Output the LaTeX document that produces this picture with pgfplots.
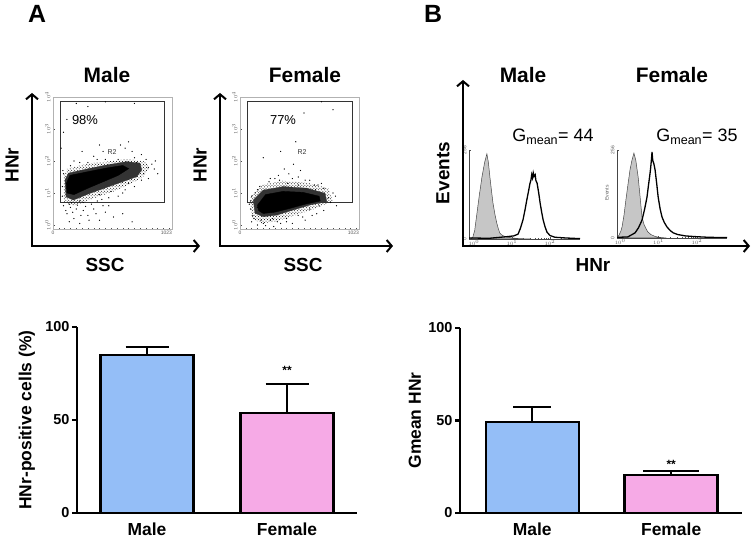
\documentclass[border=0pt]{standalone}
\usepackage{pgfplots}
\pgfplotsset{compat=1.18}
\usepackage{fontspec}
\setmainfont{Liberation Sans}
\usetikzlibrary{arrows.meta,patterns}
\definecolor{barblue}{RGB}{148,190,247}
\definecolor{barpink}{RGB}{246,170,230}
\newcommand{\fs}[1]{\fontsize{#1}{#1}\selectfont}

\pgfplotsset{
  flowscatter/.style={anchor=south west, scale only axis, width=119bp, height=132bp,
    xmin=0, xmax=1023, ymin=-0.125, ymax=4,
    axis line style={draw=gray!60, line width=0.5bp},
    xtick={0,1023}, xticklabels={0,\llap{1023}},
    ytick={0,1,2,3,4}, yticklabels={$10^0$,$10^1$,$10^2$,$10^3$,$10^4$},
    minor xtick={50,100,150,200,250,300,350,400,450,500,550,600,650,700,750,800,850,900,950,1000},
    minor ytick={0.301,0.477,0.602,0.699,0.778,0.845,0.903,0.954,1.301,1.477,1.602,1.699,1.778,1.845,1.903,1.954,2.301,2.477,2.602,2.699,2.778,2.845,2.903,2.954,3.301,3.477,3.602,3.699,3.778,3.845,3.903,3.954},
    tick pos=left, tick align=inside, major tick length=2bp, minor tick length=1.3bp,
    tick style={gray!60!black, line width=0.4bp},
    tick label style={font=\fs{5}, text=gray!70!black},
    yticklabel style={rotate=90, anchor=south, yshift=-1bp},
    xticklabel style={yshift=1.5bp}},
  flowhist/.style={anchor=south west, scale only axis, ymin=0, ymax=256,
    axis x line=bottom, axis y line=left,
    axis line style={-, draw=gray!55!black, line width=0.5bp},
    xtick={0,1,2}, xticklabels={$10^0$,$10^1$,$10^2$},
    minor xtick={0.301,0.477,0.602,0.699,0.778,0.845,0.903,0.954,1.301,1.477,1.602,1.699,1.778,1.845,1.903,1.954,2.301,2.477,2.602},
    ytick={0,256}, yticklabels={0,256},
    minor ytick={64,128,192},
    tick align=inside, major tick length=2bp, minor tick length=1.3bp,
    tick style={gray!60!black, line width=0.4bp},
    tick label style={font=\fs{5}, text=gray!70!black},
    yticklabel style={rotate=90, anchor=south, yshift=-1bp},
    xticklabel style={yshift=2bp}},
  barchart/.style={anchor=south west, scale only axis, ymin=0, ymax=100,
    axis x line=bottom, axis y line=left, axis line style={-, line width=2.4bp},
    xtick={0,1}, xticklabels={Male,Female},
    x tick label style={font=\fs{17.5}\bfseries, yshift=-1bp},
    ytick={0,50,100}, yticklabels={0,50,100},
    y tick label style={font=\fs{14.5}\bfseries, xshift=1bp},
    major x tick style={draw=none}, major y tick style={line width=2.4bp, black},
    major tick length=5bp, tick align=outside,
    ybar, bar shift=0pt, bar width=93bp, clip=false,
    ylabel style={font=\fs{17.5}\bfseries, anchor=center}}
}

\begin{document}
\begin{tikzpicture}[x=1bp,y=1bp]
\path[use as bounding box] (0,0) rectangle (753,538);

% ---------------- Panel A: scatter plots ----------------
\begin{axis}[flowscatter, at={(53bp,309bp)}]
\addplot[gray!40!black, line width=0.6bp] coordinates {(60,0.72) (955,0.72) (955,3.875) (60,3.875) (60,0.72)};
\addplot[pattern=crosshatch dots, pattern color=black, draw=none] coordinates {(90,1.5) (120,1.75) (300,1.92) (460,1.98) (640,2.06) (800,1.98) (830,1.75) (760,1.45) (560,1.1) (340,0.82) (180,0.6) (95,0.72) (90,1.5)};
\addplot[fill=black!80, draw=black!80, line width=0.3bp] coordinates {(103,1.41) (132,1.62) (318,1.77) (462,1.875) (634,1.98) (748,1.93) (763,1.72) (720,1.51) (519,1.25) (318,0.99) (175,0.78) (112,0.88) (103,1.41)};
\addplot[fill=black, draw=black] coordinates {(115,1.3) (145,1.55) (320,1.68) (460,1.78) (600,1.86) (650,1.76) (560,1.55) (450,1.38) (300,1.15) (180,0.95) (120,1.0) (115,1.3)};
\addplot[only marks, mark=*, mark size=0.35bp, black] coordinates {
(150,0.55) (210,0.62) (260,0.45) (120,0.35) (300,0.3) (180,0.2) (350,0.5) (90,0.6) (400,0.15) (450,0.4) (230,0.05) (520,0.25) (600,0.35) (680,0.1) (140,0.1) (330,0.65) (280,0.58) (480,0.6)
(250,2.3) (400,2.5) (430,2.3) (620,2.4) (700,2.1) (800,2.05) (350,2.15) (180,2.0) (650,2.6) (450,2.05) (90,2.9) (300,3.7) (450,3.85) (700,3.8) (200,3.8) (820,1.8) (850,1.9) (780,1.6) (500,1.05) (650,1.3) (400,0.95) (760,1.4) (560,0.9) (120,3.3) (70,2.4)
(230,0.75) (160,0.7) (420,0.8) (90,1.6) (80,1.2) (560,2.05) (300,1.95) (720,1.95) (870,1.75) (620,1.1)
(110,0.45) (170,0.4) (240,0.3) (310,0.15) (370,0.35) (430,0.6) (200,0.5) (260,0.7) (140,0.65) (80,0.9) (85,1.7) (150,1.85) (230,1.95) (380,2.05) (580,2.5) (680,2.3) (760,2.2) (880,2.0) (900,1.6) (820,1.45) (700,1.2) (600,1.0) (480,0.85) (380,0.75)};
\node[font=\fs{13}] at (axis cs:275,3.28) {98\%};
\node[font=\fs{7}, text=black!80] at (axis cs:507,2.28) {R2};
\end{axis}

\begin{axis}[flowscatter, at={(240bp,309bp)}]
\addplot[gray!40!black, line width=0.6bp] coordinates {(60,0.72) (963,0.72) (963,3.875) (60,3.875) (60,0.72)};
\addplot[pattern=crosshatch dots, pattern color=black, draw=none] coordinates {(90,0.85) (180,1.25) (370,1.38) (580,1.32) (760,1.15) (800,0.75) (640,0.5) (470,0.3) (320,0.12) (190,0.05) (100,0.2) (90,0.85)};
\addplot[fill=black!80, draw=black!80, line width=0.3bp] coordinates {(114,0.78) (200,1.09) (372,1.20) (574,1.15) (731,0.99) (746,0.73) (602,0.625) (458,0.47) (316,0.31) (200,0.26) (129,0.37) (114,0.78)};
\addplot[fill=black, draw=black] coordinates {(150,0.62) (220,0.95) (370,1.05) (540,1.02) (680,0.9) (690,0.75) (560,0.65) (430,0.52) (300,0.4) (200,0.36) (160,0.45) (150,0.62)};
\addplot[only marks, mark=*, mark size=0.35bp, black] coordinates {
(100,0.1) (150,0.0) (200,0.05) (260,0.15) (320,0.1) (400,0.2) (500,0.3) (150,0.55) (90,0.5) (600,0.5) (680,0.6) (760,0.85) (800,1.0) (700,1.3) (600,1.4) (500,1.5) (420,1.6) (300,1.45) (250,1.35) (380,1.75) (520,1.7) (150,1.1) (100,0.9) (480,2.6) (350,2.3) (800,3.6) (700,3.85) (550,3.5) (200,2.1) (650,1.1) (780,0.7) (350,0.05) (240,0.45) (560,0.15) (450,0.05)
(120,0.2) (280,0.2) (180,0.15) (410,1.3) (330,1.55) (640,1.25) (720,1.15) (90,0.75) (460,1.9) (620,0.3)
(130,1.0) (170,1.2) (260,1.45) (340,1.4) (450,1.45) (560,1.4) (670,1.25) (820,0.9) (830,0.6) (720,0.45) (660,0.35) (540,0.25) (400,0.1) (290,-0.05) (220,-0.02) (110,0.3) (80,0.65) (500,1.25)};
\node[font=\fs{13}] at (axis cs:370,3.28) {77\%};
\node[font=\fs{7}, text=black!80] at (axis cs:533,2.28) {R2};
\end{axis}

% ---------------- Panel B: histograms ----------------
\begin{axis}[flowhist, at={(469bp,299bp)}, width=111bp, height=89bp, xmin=-0.13, xmax=2.79]
\addplot[fill=gray!45, draw=gray!55!black, line width=0.5bp] table {
x y
-0.1 0
-0.03 5
0.02 25
0.08 75
0.14 125
0.21 178
0.28 220
0.34 245
0.38 220
0.42 178
0.46 140
0.50 104
0.55 72
0.60 46
0.64 30
0.68 17
0.75 10
0.85 6
1.0 3
1.2 1
1.5 0
} \closedcycle;
\addplot[black, line width=1.3bp] table {
x y
-0.13 3
0.4 2
0.7 5
0.9 7
1.05 9
1.16 14
1.22 30
1.29 55
1.34 82
1.39 112
1.44 140
1.47 158
1.50 170
1.52 185
1.54 176
1.56 190
1.58 180
1.61 185
1.63 168
1.66 161
1.70 135
1.74 104
1.78 78
1.82 55
1.87 35
1.92 20
2.0 10
2.13 5
2.4 3
2.79 1
};
\end{axis}

\begin{axis}[flowhist, at={(617bp,300bp)}, width=110bp, height=88bp, xmin=-0.08, xmax=2.78]
\addplot[fill=gray!45, draw=gray!55!black, line width=0.5bp] table {
x y
-0.08 0
-0.03 8
0.02 20
0.05 32
0.10 65
0.15 110
0.21 160
0.26 200
0.31 227
0.36 247
0.41 225
0.47 177
0.52 120
0.57 61
0.62 40
0.67 28
0.72 18
0.80 10
0.90 5
1.0 2
1.2 0
} \closedcycle;
\addplot[black, line width=1.3bp] table {
x y
-0.08 2
0.2 3
0.39 15
0.48 30
0.57 52
0.64 85
0.70 119
0.74 155
0.78 189
0.80 210
0.82 235
0.83 250
0.85 225
0.88 215
0.91 198
0.95 160
0.99 119
1.04 85
1.09 61
1.15 45
1.22 32
1.30 22
1.38 15
1.5 10
1.7 6
1.95 4
2.3 2
2.78 1
};
\end{axis}

% ---------------- Bar charts ----------------
\begin{axis}[barchart, at={(77bp,25bp)}, width=280bp, height=186bp, xmin=-0.5, xmax=1.5,
  ylabel={HNr-positive cells (\%)}, ylabel style={at={(axis description cs:-0.179,0.5)}}]
\addplot[fill=barblue, draw=black, line width=2.4bp,
  error bars/.cd, y dir=plus, y explicit,
  error bar style={line width=2.2bp, black},
  error mark options={rotate=90, line width=2.2bp, mark size=21.5bp, black}]
  coordinates {(0,85) +- (0,4.2)};
\addplot[fill=barpink, draw=black, line width=2.4bp,
  error bars/.cd, y dir=plus, y explicit,
  error bar style={line width=2.2bp, black},
  error mark options={rotate=90, line width=2.2bp, mark size=21.5bp, black}]
  coordinates {(1,53.8) +- (0,15.6)};
\node[font=\fs{12}\bfseries, anchor=base] at (axis cs:1,69.4) [yshift=9bp] {**};
\end{axis}

\begin{axis}[barchart, at={(460bp,25bp)}, width=282bp, height=185bp, xmin=-0.52, xmax=1.51,
  ylabel={Gmean HNr}, ylabel style={at={(axis description cs:-0.16,0.5)}}]
\addplot[fill=barblue, draw=black, line width=2.4bp,
  error bars/.cd, y dir=plus, y explicit,
  error bar style={line width=2.2bp, black},
  error mark options={rotate=90, line width=2.2bp, mark size=19bp, black}]
  coordinates {(0,49.2) +- (0,8.1)};
\addplot[fill=barpink, draw=black, line width=2.4bp,
  error bars/.cd, y dir=plus, y explicit,
  error bar style={line width=2.2bp, black},
  error mark options={rotate=90, line width=2.2bp, mark size=28bp, black}]
  coordinates {(1,20.5) +- (0,2.2)};
\node[font=\fs{12}\bfseries, anchor=base] at (axis cs:1,22.7) [yshift=3bp] {**};
\end{axis}

% ---------------- Arrows and labels ----------------
\begin{scope}[line width=2bp, black]
\draw[{Straight Barb[length=5bp,width=12bp]}-{Straight Barb[length=5bp,width=12bp]}] (32,445) -- (32,292) -- (200,292);
\draw[{Straight Barb[length=5bp,width=12bp]}-{Straight Barb[length=5bp,width=12bp]}] (220,445) -- (220,292) -- (393,292);
\draw[{Straight Barb[length=5bp,width=12bp]}-{Straight Barb[length=5bp,width=12bp]}] (463,458) -- (463,292) -- (750,292);
\end{scope}

\node[font=\fs{25}\bfseries] at (37,524) {A};
\node[font=\fs{25}\bfseries] at (433,524) {B};
\node[font=\fs{21}\bfseries] at (107,463) {Male};
\node[font=\fs{21}\bfseries] at (305,463) {Female};
\node[font=\fs{21}\bfseries] at (523,463) {Male};
\node[font=\fs{21}\bfseries] at (672,463) {Female};
\node[font=\fs{19}\bfseries, rotate=90] at (12,373) {HNr};
\node[font=\fs{19}\bfseries, rotate=90] at (200,373) {HNr};
\node[font=\fs{19}\bfseries] at (105,273) {SSC};
\node[font=\fs{19}\bfseries] at (303,273) {SSC};
\node[font=\fs{19}\bfseries, rotate=90] at (443,365) {Events};
\node[font=\fs{19}\bfseries] at (593,273) {HNr};
\node[font=\fs{18}] at (553,401) {G\textsubscript{mean}= 44};
\node[font=\fs{18}] at (697,401) {G\textsubscript{mean}= 35};
\node[font=\fs{5}, text=gray!70!black, rotate=90] at (607,345) {Events};
\end{tikzpicture}
\end{document}
